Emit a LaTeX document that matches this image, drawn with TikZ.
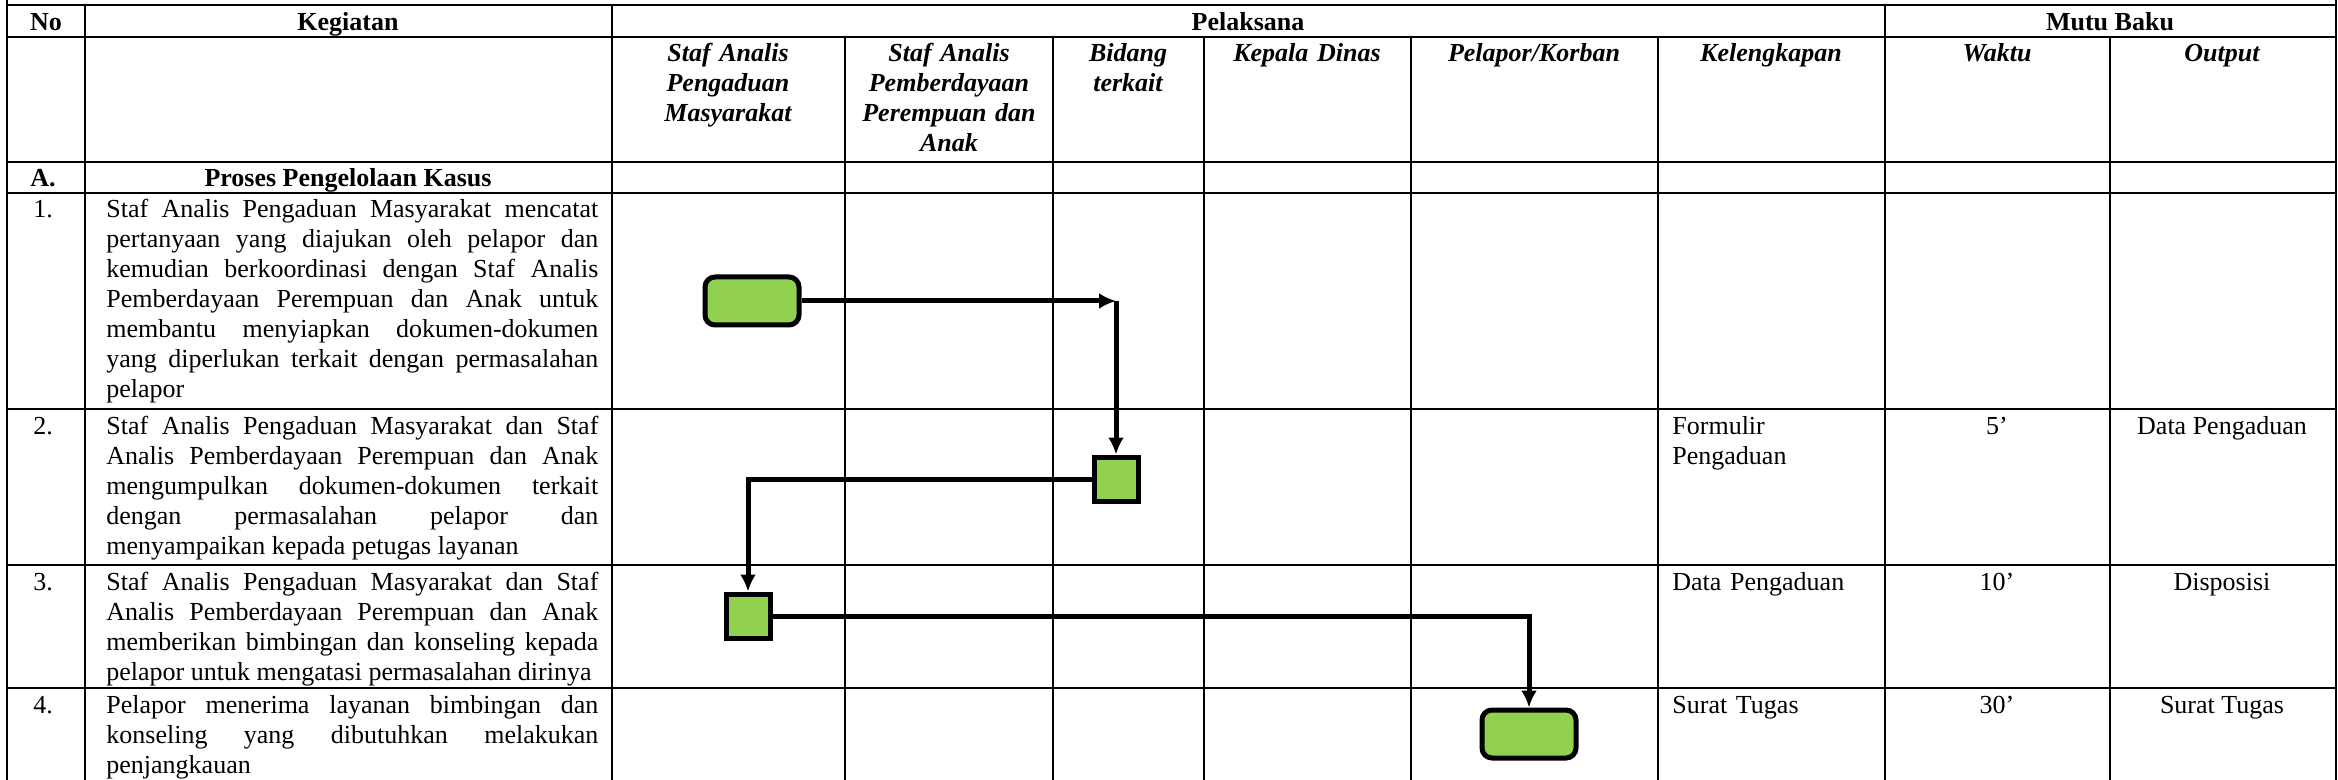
\documentclass[tikz,border=0pt]{standalone}
\usepackage{fontspec}
\setmainfont{Liberation Serif}
\usetikzlibrary{arrows.meta}
\definecolor{flowgreen}{HTML}{92D050}
\newcommand{\cellfont}{\fontsize{13pt}{15pt}\selectfont}
\hyphenpenalty=10000
\exhyphenpenalty=10000

\begin{document}
\begin{tikzpicture}[x=0.5pt,y=-0.5pt,
    grid/.style={line width=1.2pt},
    terminal/.style={draw,line width=2.5pt,fill=flowgreen,rounded corners=5pt,
      minimum width=47pt,minimum height=24pt,inner sep=0pt},
    process/.style={draw,line width=2.5pt,fill=flowgreen,
      minimum width=22pt,minimum height=22pt,inner sep=0pt},
    flow/.style={line width=2.5pt,-{Latex[length=8.5pt,width=8pt]}},
    hd/.style={font=\cellfont\bfseries,anchor=base,inner sep=0pt},
    sub/.style={font=\cellfont\bfseries\itshape,anchor=base,inner sep=0pt,
      text width=100pt,align=center},
    num/.style={font=\cellfont,anchor=base,inner sep=0pt},
    txt/.style={font=\cellfont,anchor=base west,inner sep=0pt,
      text width=246pt,align=justify},
    cell/.style={font=\cellfont,anchor=base west,inner sep=0pt,
      text width=100pt,align=left}]
  \useasboundingbox (0,0) rectangle (2338,780);

  % table
  \foreach \y in {5,37,162,193,409,565,688}
    \draw[grid] (7,\y) -- (2336,\y);
  \draw[grid] (7,0) -- (7,780);
  \draw[grid] (2336,0) -- (2336,780);
  \foreach \x in {85,612,1885}
    \draw[grid] (\x,5) -- (\x,780);
  \foreach \x in {845,1053,1204,1411,1658,2110}
    \draw[grid] (\x,37) -- (\x,780);

  % header
  \node[hd] (h_no) at (46,31) {No};
  \node[hd] (h_keg) at (348,31) {Kegiatan};
  \node[hd] (h_pel) at (1248,31) {Pelaksana};
  \node[hd] (h_mutu) at (2110,31) {Mutu Baku};
  \foreach \x/\t [count=\i] in {728/{Staf Analis\\Pengaduan\\Masyarakat},
      949/{Staf Analis\\Pemberdayaan\\Perempuan dan\\Anak},
      1128/{Bidang\\terkait}, 1307/{Kepala Dinas}, 1534/{Pelapor/Korban},
      1771/{Kelengkapan}, 1997/{Waktu}, 2222/{Output}}
    \node[sub] (p_\i) at (\x,62) {\t};
  \node[hd] (a_no) at (43,187) {A.};
  \node[hd] (a_keg) at (348,187) {Proses Pengelolaan Kasus};

  % kegiatan
  \node[num] (n_1) at (43,218) {1.};
  \node[txt] (k_1) at (106,218) {Staf Analis Pengaduan Masyarakat mencatat\linebreak
    pertanyaan yang diajukan oleh pelapor dan\linebreak
    kemudian berkoordinasi dengan Staf Analis\linebreak
    Pemberdayaan Perempuan dan Anak untuk\linebreak
    membantu menyiapkan dokumen-dokumen\linebreak
    yang diperlukan terkait dengan permasalahan\linebreak
    pelapor};
  \node[num] (n_2) at (43,434) {2.};
  \node[txt] (k_2) at (106,434) {Staf Analis Pengaduan Masyarakat dan Staf\linebreak
    Analis Pemberdayaan Perempuan dan Anak\linebreak
    mengumpulkan dokumen-dokumen terkait\linebreak
    dengan permasalahan pelapor dan\linebreak
    menyampaikan kepada petugas layanan};
  \node[num] (n_3) at (43,590) {3.};
  \node[txt] (k_3) at (106,590) {Staf Analis Pengaduan Masyarakat dan Staf\linebreak
    Analis Pemberdayaan Perempuan dan Anak\linebreak
    memberikan bimbingan dan konseling kepada\linebreak
    pelapor untuk mengatasi permasalahan dirinya};
  \node[num] (n_4) at (43,713) {4.};
  \node[txt] (k_4) at (106,713) {Pelapor menerima layanan bimbingan dan\linebreak
    konseling yang dibutuhkan melakukan\linebreak
    penjangkauan};

  % mutu baku
  \foreach \y/\a/\w/\o [count=\i from 2] in {434/{Formulir\\Pengaduan}/5’/Data Pengaduan,
      590/Data Pengaduan/10’/Disposisi, 713/Surat Tugas/30’/Surat Tugas} {
    \node[cell] (l_\i) at (1672,\y) {\a};
    \node[num] (w_\i) at (1997,\y) {\w};
    \node[num] (o_\i) at (2222,\y) {\o};
  }

  % alur
  \node[terminal] (s_1) at (752,301) {};
  \node[process] (s_2) at (1116,479) {};
  \node[process] (s_3) at (748,616) {};
  \node[terminal] (s_4) at (1529,734) {};
  \coordinate (c_1) at (s_2 |- s_1);
  \draw[flow] (s_1) -- (c_1);
  \draw[flow] (c_1) -- (s_2);
  \draw[flow] (s_2) -| (s_3);
  \draw[flow] (s_3) -| (s_4);
\end{tikzpicture}
\end{document}
